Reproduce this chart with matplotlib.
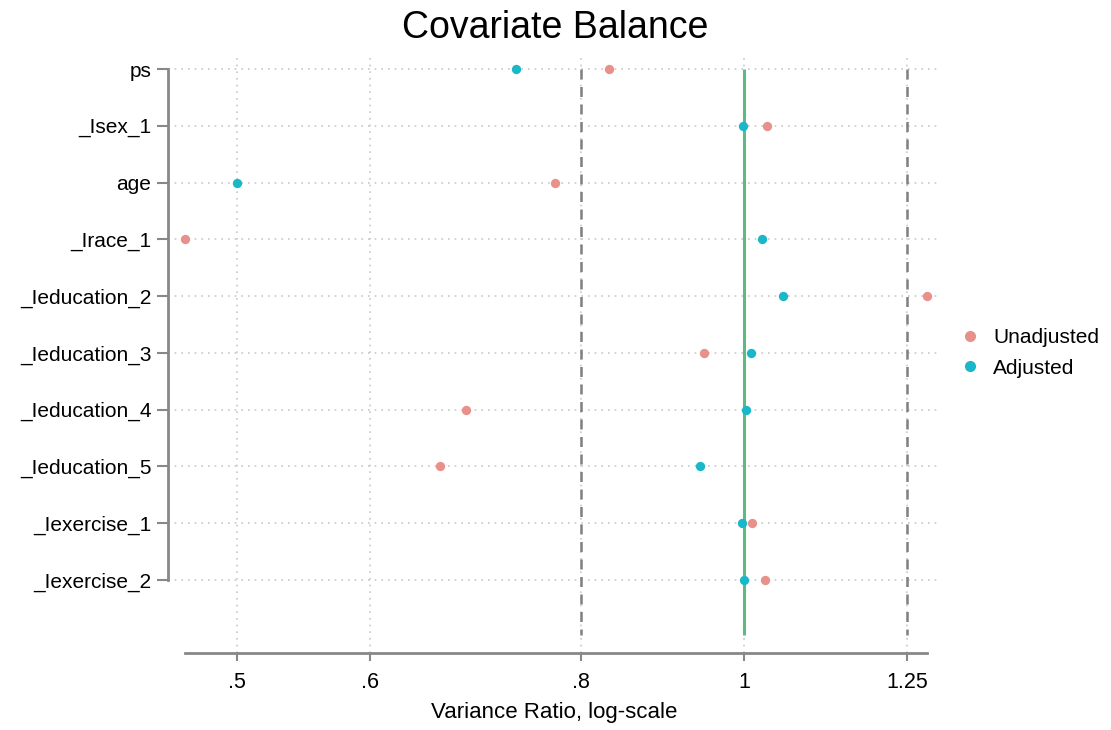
import numpy as np
import matplotlib
matplotlib.use("Agg")
import matplotlib.pyplot as plt
from matplotlib.lines import Line2D

plt.rcParams['font.family'] = ['Liberation Sans', 'DejaVu Sans']

covariates = ["ps", "_Isex_1", "age", "_Irace_1", "_Ieducation_2", "_Ieducation_3",
              "_Ieducation_4", "_Ieducation_5", "_Iexercise_1", "_Iexercise_2"]
unadjusted = [0.831, 1.032, 0.772, 0.466, 1.284, 0.947, 0.684, 0.660, 1.011, 1.029]
adjusted = [0.732, 0.999, 0.500, 1.025, 1.055, 1.010, 1.003, 0.942, 0.997, 1.000]
xticks = [0.5, 0.6, 0.8, 1.0, 1.25]
xticklabels = [".5", ".6", ".8", "1", "1.25"]
threshold_lines = [0.8, 1.25]
reference_line = 1.0

c_unadj = "#E8908A"
c_adj = "#19B8C8"
c_green = "#5DBB7F"
c_gray = "#888888"

W, H = 1111, 730
fig = plt.figure(figsize=(W / 100, H / 100), dpi=100)
left, right, top, bottom = 168, 940, 55, 653
ax = fig.add_axes([left / W, 1 - bottom / H, (right - left) / W, (bottom - top) / H])

ypos = np.arange(1, len(covariates) + 1)

ax.set_xscale('log')
ax.set_xlim(0.4550, 1.3073)
ax.set_ylim(11.286, 0.7534)

# grid
for xv in xticks:
    ax.axvline(xv, color="#C8C8C8", linestyle=(0, (1, 3)), linewidth=1.2, zorder=0)
for yv in ypos:
    ax.axhline(yv, color="#C8C8C8", linestyle=(0, (1, 3)), linewidth=1.2, zorder=0)

# reference lines
for xv in threshold_lines:
    ax.vlines(xv, 1, 10.97, color="#808080", linestyle=(0, (4, 3)), linewidth=1.8, zorder=1)
ax.vlines(reference_line, 1, 10.97, color=c_green, linewidth=2.2, zorder=2)

ax.scatter(unadjusted, ypos, s=45, color=c_unadj, zorder=3, linewidths=0)
ax.scatter(adjusted, ypos, s=45, color=c_adj, zorder=4, linewidths=0)

ax.set_yticks(ypos)
ax.set_yticklabels(covariates, fontsize=15)
ax.set_xticks(xticks)
ax.set_xticklabels(xticklabels, fontsize=15.5)
ax.xaxis.set_minor_locator(matplotlib.ticker.NullLocator())
ax.xaxis.set_minor_formatter(matplotlib.ticker.NullFormatter())

for s in ['top', 'right']:
    ax.spines[s].set_visible(False)
ax.spines['left'].set_bounds(1, len(covariates))
ax.spines['bottom'].set_bounds(min(min(unadjusted), min(adjusted)), max(max(unadjusted), max(adjusted)))
for s in ['left', 'bottom']:
    ax.spines[s].set_color(c_gray)
    ax.spines[s].set_linewidth(2)

ax.tick_params(axis='y', length=8, width=1.5, color=c_gray, pad=4)
ax.tick_params(axis='x', length=6, width=1.5, color=c_gray, pad=8)

ax.set_xlabel("Variance Ratio, log-scale", fontsize=16, labelpad=6)
fig.suptitle("Covariate Balance", fontsize=27, y=1 - 28 / H, va='center')

handles = [Line2D([], [], marker='o', linestyle='none', color=c_unadj, markersize=7),
           Line2D([], [], marker='o', linestyle='none', color=c_adj, markersize=7)]
fig.legend(handles, ["Unadjusted", "Adjusted"], loc='center left',
           bbox_to_anchor=(962 / W, 1 - 353 / H), frameon=False, fontsize=15,
           handletextpad=0.69, labelspacing=0.55, handlelength=0.8,
           borderpad=0, borderaxespad=0)

fig.savefig("out.png", dpi=100)
